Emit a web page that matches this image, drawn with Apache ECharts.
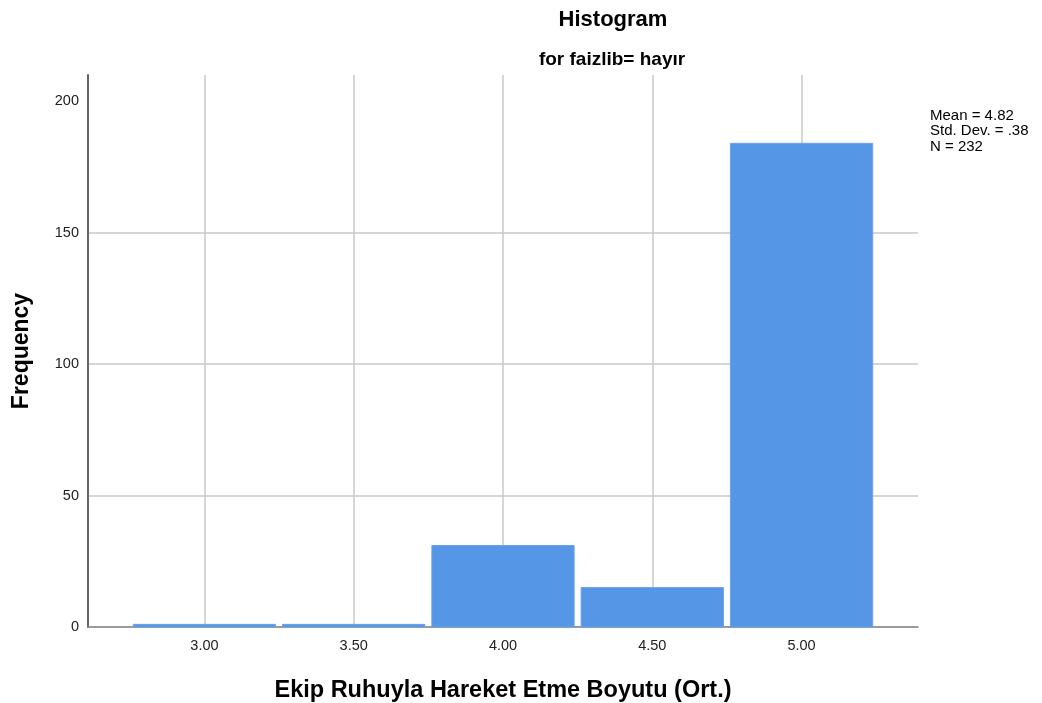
<!DOCTYPE html>
<html>
<head>
<meta charset="utf-8">
<script src="https://cdn.jsdelivr.net/npm/echarts@6/dist/echarts.min.js"></script>
<style>
html,body{margin:0;padding:0;background:#fff;}
#chart{width:1042px;height:703px;}
</style>
</head>
<body>
<div id="chart"></div>
<script>
const binCenters = [3.0, 3.5, 4.0, 4.5, 5.0];
const frequencies = [1, 1, 31, 15, 184];
const binWidth = 0.5;
const xTicks = [3.0, 3.5, 4.0, 4.5, 5.0];
const yTicks = [0, 50, 100, 150, 200];
const statsLines = ['Mean = 4.82', 'Std. Dev. = .38', 'N = 232'];
const titleText = 'Histogram';
const subtitleText = 'for faizlib= hayır';
const xName = 'Ekip Ruhuyla Hareket Etme Boyutu (Ort.)';
const yName = 'Frequency';

const font = '"Liberation Sans", Arial, sans-serif';
const chart = echarts.init(document.getElementById('chart'), null, {renderer: 'canvas'});

const data = binCenters.map((c, i) => [c, frequencies[i]]);

chart.setOption({
  backgroundColor: '#ffffff',
  animation: false,
  textStyle: {fontFamily: font},
  grid: {left: 88, right: 124, top: 75, bottom: 76, containLabel: false, outerBoundsMode: 'none'},
  title: [
    {text: titleText, left: 608, top: 4, textAlign: 'center',
     textStyle: {fontFamily: font, fontSize: 22, fontWeight: 'bold', color: '#000'}},
    {text: subtitleText, left: 607, top: 45, textAlign: 'center',
     textStyle: {fontFamily: font, fontSize: 19, fontWeight: 'bold', color: '#000'}}
  ],
  xAxis: {
    type: 'value',
    min: 2.61,
    max: 5.39,
    name: xName,
    nameLocation: 'middle',
    nameGap: 52,
    nameTextStyle: {fontFamily: font, fontSize: 23.5, fontWeight: 'bold', color: '#000'},
    axisLine: {show: true, onZero: false, lineStyle: {color: '#888', width: 1.5}},
    axisTick: {show: false, customValues: xTicks},
    axisLabel: {customValues: xTicks, formatter: v => v.toFixed(2), fontFamily: font, fontSize: 14.5, color: '#222', margin: 11},
    splitLine: {show: true, customValues: xTicks, lineStyle: {color: '#c8c8c8', width: 1.5}}
  },
  yAxis: {
    type: 'value',
    min: 0,
    max: 210,
    name: yName,
    nameLocation: 'middle',
    nameGap: 55,
    nameTextStyle: {fontFamily: font, fontSize: 23, fontWeight: 'bold', color: '#000'},
    axisLine: {show: true, lineStyle: {color: '#666', width: 2}},
    axisTick: {show: false, customValues: yTicks},
    axisLabel: {customValues: yTicks, fontFamily: font, fontSize: 14.5, color: '#222', margin: 9},
    splitLine: {show: true, customValues: yTicks, showMaxLine: false, lineStyle: {color: '#c8c8c8', width: 1.5}}
  },
  series: [{
    type: 'custom',
    data: data,
    encode: {x: 0, y: 1},
    renderItem: function (params, api) {
      const c = api.value(0);
      const v = api.value(1);
      const p0 = api.coord([c - binWidth / 2, 0]);
      const p1 = api.coord([c + binWidth / 2, v]);
      const gap = 3.5;
      return {
        type: 'rect',
        shape: {x: p0[0] + gap, y: p1[1], width: p1[0] - p0[0] - 2 * gap, height: p0[1] - p1[1]},
        style: {fill: '#5596e6', stroke: '#6aa3ea', lineWidth: 1}
      };
    }
  }],
  graphic: statsLines.map((t, i) => ({
    type: 'text',
    left: 930,
    top: 108 + i * 15.5,
    style: {text: t, fontFamily: font, fontSize: 15, fill: '#000'}
  }))
});
</script>
</body>
</html>
